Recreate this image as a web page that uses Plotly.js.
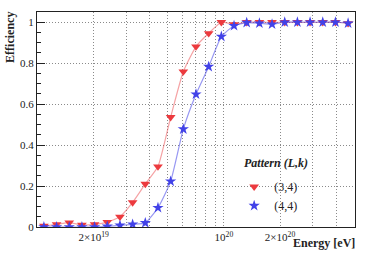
<!DOCTYPE html>
<html><head><meta charset="utf-8">
<script src="https://cdn.plot.ly/plotly-3.0.1.min.js"></script>
<style>html,body{margin:0;padding:0;background:#fff}#c{width:374px;height:253px}</style>
</head><body><div id="c"></div>
<script>
// log10 of bin-centre energies [eV]
const log10Energy = [19.034,19.102,19.170,19.238,19.306,19.374,19.442,19.510,19.578,19.646,19.714,19.782,19.850,19.918,19.986,20.054,20.122,20.190,20.258,20.326,20.394,20.462,20.530,20.598,20.666];
const effL3k4 = [0.005,0.013,0.021,0.010,0.013,0.024,0.050,0.120,0.210,0.295,0.536,0.759,0.881,0.946,1.000,0.990,1.000,1.000,1.000,1.000,1.000,1.000,1.000,1.000,0.995];
const effL4k4 = [0.000,0.000,0.000,0.000,0.000,0.003,0.008,0.013,0.020,0.094,0.223,0.478,0.648,0.783,0.930,0.983,0.998,0.995,0.990,1.000,1.000,1.000,1.000,1.000,0.995];
const seriesNames = ['(3,4)','(4,4)'];
const legendTitle = 'Pattern (L,k)';
const cutEnergy = 1e20;
const xTickVals = [2e19,3e19,4e19,5e19,6e19,7e19,8e19,9e19,1e20,2e20,3e20,4e20];
const xTickText = ['2×10<sup>19</sup>','','','','','','','','10<sup>20</sup>','2×10<sup>20</sup>','',''];
const yTickVals = [0,0.2,0.4,0.6,0.8,1];
const yTickText = ['0','0.2','0.4','0.6','0.8','1'];

const energy = log10Energy.map(v => Math.pow(10, v));
const red = 'rgb(236,58,62)', redL = 'rgba(236,70,74,0.5)';
const blue = 'rgb(66,66,232)', blueL = 'rgba(66,66,232,0.55)';
const F = 'Liberation Serif, Times New Roman, serif';

const traces = [
  {x: energy, y: effL3k4, mode:'lines', line:{color:redL, width:1.2, shape:'spline', smoothing:0.5}, showlegend:false, hoverinfo:'skip'},
  {x: energy, y: effL4k4, mode:'lines', line:{color:blueL, width:1.2, shape:'spline', smoothing:0.5}, showlegend:false, hoverinfo:'skip'},
  {x: energy, y: effL3k4, mode:'markers', name: seriesNames[0], marker:{symbol:'triangle-down', size:8.5, color:red, line:{width:0}}},
  {x: energy, y: effL4k4, mode:'markers', name: seriesNames[1], marker:{symbol:'star', size:8.5, color:blue, line:{width:0}}}
];

const layout = {
  width:374, height:253,
  margin:{l:37, r:19, t:12, b:26},
  paper_bgcolor:'#fff', plot_bgcolor:'#fff',
  font:{family:F, size:11, color:'#222'},
  showlegend:true,
  legend:{x:0.62, y:0.255, xanchor:'left', yanchor:'top', bgcolor:'rgba(0,0,0,0)',
    font:{family:F, size:12, color:'#222'}, itemwidth:30, tracegroupgap:2},
  xaxis:{type:'log', range:[18.997, 20.703], tickmode:'array', tickvals:xTickVals, ticktext:xTickText,
    ticks:'', showgrid:true, gridcolor:'#8a8a8a', griddash:'1px,2px', gridwidth:1,
    showline:true, linecolor:'#222', linewidth:1, mirror:true, zeroline:false,
    tickfont:{family:F, size:11, color:'#222'}},
  yaxis:{range:[0,1.05], tickmode:'array', tickvals:yTickVals, ticktext:yTickText,
    ticks:'inside', ticklen:8, tickcolor:'#222', showgrid:true, gridcolor:'#8a8a8a', griddash:'1px,2px', gridwidth:1,
    showline:true, linecolor:'#222', linewidth:1, mirror:true, zeroline:false,
    minor:{ticks:'inside', dtick:0.05, ticklen:4, tickcolor:'#222', showgrid:false},
    tickfont:{family:F, size:11, color:'#222'}},
  shapes:[{type:'line', xref:'x', yref:'paper', x0:Math.log10(cutEnergy), x1:Math.log10(cutEnergy), y0:0, y1:1,
    line:{color:'rgb(235,30,30)', width:2, dash:'14px,4px'}}],
  annotations:[
    {text:'<b>Efficiency</b>', xref:'paper', yref:'paper', x:-0.085, y:0.884, xanchor:'center', yanchor:'middle',
     textangle:-90, showarrow:false, font:{family:F, size:12, color:'#222'}},
    {text:'<b>Energy [eV]</b>', xref:'paper', yref:'paper', x:1, y:-0.074, xanchor:'right', yanchor:'middle', xshift:2,
     showarrow:false, font:{family:F, size:12, color:'#222'}},
    {text:'<b><i>' + legendTitle + '</i></b>', xref:'paper', yref:'paper', x:0.752, y:0.298, xanchor:'center', yanchor:'middle',
     showarrow:false, font:{family:F, size:12, color:'#222'}}
  ]
};
Plotly.newPlot('c', traces, layout, {displayModeBar:false, staticPlot:true});
</script></body></html>
